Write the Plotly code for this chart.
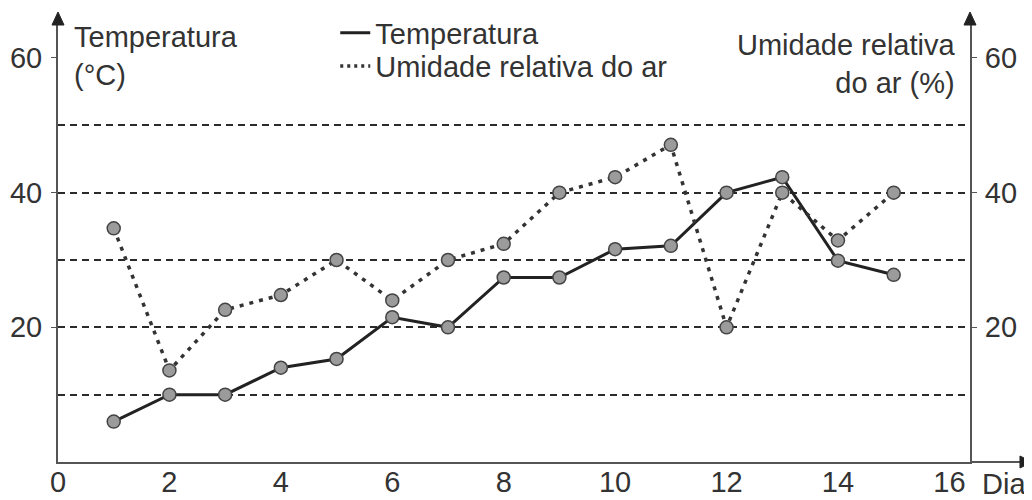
import plotly.graph_objects as go

days = list(range(1, 16))
temperatura = [6.0, 10.0, 10.0, 14.0, 15.3, 21.5, 20.0, 27.4, 27.4, 31.6, 32.1, 40.0, 42.3, 29.9, 27.8]
umidade = [34.7, 13.6, 22.6, 24.8, 30.0, 24.0, 30.0, 32.4, 40.0, 42.3, 47.1, 20.0, 40.0, 32.9, 40.0]
x_ticks = [0, 2, 4, 6, 8, 10, 12, 14, 16]
y_ticks = [20, 40, 60]
grid_vals = [10, 20, 30, 40, 50]

FONT = "Liberation Sans, Arial, sans-serif"
FS = 29
TXT = "#333333"
AX = "#555555"
X_MAX = 16.37
Y_MAX = 64.9

marker = dict(size=13, color="#9b9b9b", line=dict(color="#444444", width=1.5))

fig = go.Figure()
fig.add_trace(go.Scatter(x=days, y=temperatura, mode="lines+markers",
                         line=dict(color="#222222", width=3), marker=marker,
                         showlegend=False, yaxis="y"))
fig.add_trace(go.Scatter(x=days, y=umidade, mode="lines+markers",
                         line=dict(color="#333333", width=3.5, dash="4px,6px"), marker=marker,
                         showlegend=False, yaxis="y2"))
# legend entries (line samples only)
fig.add_trace(go.Scatter(x=[None], y=[None], mode="lines", name="Temperatura",
                         line=dict(color="#222222", width=3), legend="legend"))
fig.add_trace(go.Scatter(x=[None], y=[None], mode="lines", name="Umidade relativa do ar",
                         line=dict(color="#333333", width=3.5, dash="3px,4px"), legend="legend2"))

legend_common = dict(xanchor="left", yanchor="middle", bgcolor="rgba(0,0,0,0)",
                     font=dict(size=FS, color=TXT), itemwidth=30, borderwidth=0)

# the page body adds an 8px margin, so the figure is sized 1024x492
fig.update_layout(
    width=1024, height=492,
    margin=dict(l=50, r=62, t=17, b=38, autoexpand=False),
    paper_bgcolor="white", plot_bgcolor="white",
    font=dict(family=FONT, size=FS, color=TXT),
    xaxis=dict(range=[0, X_MAX], tickvals=x_ticks, showgrid=False, zeroline=False,
               showline=True, linecolor=AX, linewidth=2, ticks="", ticklabelstandoff=-7,
               tickfont=dict(size=FS, color=TXT), automargin=False),
    yaxis=dict(range=[0, Y_MAX], tickvals=y_ticks, showgrid=False, zeroline=False,
               showline=True, linecolor=AX, linewidth=2, ticks="outside", ticklen=5,
               tickcolor=AX, tickfont=dict(size=FS, color=TXT), automargin=False,
               ticklabelstandoff=3,
               minor=dict(tickvals=grid_vals, showgrid=True, gridcolor="#2a2a2a",
                          gridwidth=1.5, griddash="7px,5px", ticks="")),
    yaxis2=dict(range=[0, Y_MAX], tickvals=y_ticks, overlaying="y", side="right", anchor="x",
                showgrid=False, zeroline=False, showline=True, linecolor=AX, linewidth=2,
                ticks="outside", ticklen=5, tickcolor=AX, tickfont=dict(size=FS, color=TXT),
                automargin=False, ticklabelstandoff=2),
    legend=dict(x=0.304, y=0.982, **legend_common),
    legend2=dict(x=0.304, y=0.906, **legend_common),
    showlegend=True,
)

# axis arrowheads and x-axis extension
head = dict(type="path", xref="paper", yref="paper", xsizemode="pixel", ysizemode="pixel",
            fillcolor="#222222", line=dict(color="#222222", width=1))
fig.add_shape(xanchor=0, yanchor=1, path="M-6,0 L6,0 L0,13 Z", **head)
fig.add_shape(xanchor=1, yanchor=1, path="M-6,0 L6,0 L0,13 Z", **head)
fig.add_shape(type="line", xref="paper", yref="paper", x0=1, x1=1.0548, y0=0, y1=0,
              line=dict(color=AX, width=2))
fig.add_shape(xanchor=1.0548, yanchor=0, path="M0,-6 L0,6 L12,0 Z", **head)

# axis titles
fig.add_annotation(x=0.0154, y=1.0136, xref="paper", yref="paper", xanchor="left", yanchor="top",
                   text="Temperatura<br>(°C)", showarrow=False, align="left",
                   font=dict(size=FS, color=TXT))
fig.add_annotation(x=0.986, y=0.9956, xref="paper", yref="paper", xanchor="right", yanchor="top",
                   text="Umidade relativa<br>do ar (%)", showarrow=False, align="right",
                   font=dict(size=FS, color=TXT))
fig.add_annotation(x=1.064, y=0, xref="paper", yref="paper", xanchor="right", yanchor="top",
                   yshift=-4, text="Dia", showarrow=False, font=dict(size=FS, color=TXT))

fig.write_html("out.html")
